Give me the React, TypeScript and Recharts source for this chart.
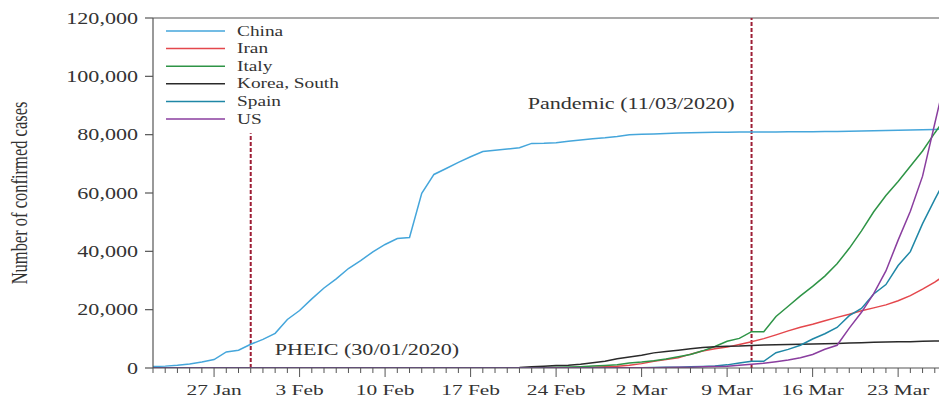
import React from "react";
import { LineChart, Line, XAxis, YAxis, ReferenceLine, Legend } from "recharts";

const dates = [
  "22 Jan","23 Jan","24 Jan","25 Jan","26 Jan","27 Jan","28 Jan","29 Jan","30 Jan","31 Jan",
  "1 Feb","2 Feb","3 Feb","4 Feb","5 Feb","6 Feb","7 Feb","8 Feb","9 Feb","10 Feb",
  "11 Feb","12 Feb","13 Feb","14 Feb","15 Feb","16 Feb","17 Feb","18 Feb","19 Feb","20 Feb",
  "21 Feb","22 Feb","23 Feb","24 Feb","25 Feb","26 Feb","27 Feb","28 Feb","29 Feb",
  "1 Mar","2 Mar","3 Mar","4 Mar","5 Mar","6 Mar","7 Mar","8 Mar","9 Mar","10 Mar",
  "11 Mar","12 Mar","13 Mar","14 Mar","15 Mar","16 Mar","17 Mar","18 Mar","19 Mar","20 Mar",
  "21 Mar","22 Mar","23 Mar","24 Mar","25 Mar","26 Mar","27 Mar",
];

const majorLabels = ["27 Jan","3 Feb","10 Feb","17 Feb","24 Feb","2 Mar","9 Mar","16 Mar","23 Mar"];
const yTicks = [0, 20000, 40000, 60000, 80000, 100000, 120000];

const china = [
  548,643,920,1406,2075,2877,5509,6087,8141,9802,
  11891,16630,19716,23707,27440,30587,34110,36814,39829,42354,
  44386,44759,59895,66358,68413,70513,72434,74211,74619,75077,
  75550,77001,77022,77241,77754,78166,78600,78928,79356,
  79932,80136,80261,80386,80537,80690,80770,80823,80860,80887,
  80921,80932,80945,80977,81003,81033,81058,81102,81156,81250,
  81305,81435,81498,81591,81661,81782,81897,
];
const iran = [
  0,0,0,0,0,0,0,0,0,0,
  0,0,0,0,0,0,0,0,0,0,
  0,0,0,0,0,0,0,0,2,5,
  18,28,43,61,95,139,245,388,593,
  978,1501,2336,2922,3513,4747,5823,6566,7161,8042,
  9000,10075,11364,12729,13938,14991,16169,17361,18407,19644,
  20610,21638,23049,24811,27017,29406,32332,
];
const italy = [
  0,0,0,0,0,0,0,0,0,2,
  2,2,2,2,2,2,3,3,3,3,
  3,3,3,3,3,3,3,3,3,3,
  20,62,155,229,322,453,655,888,1128,
  1694,2036,2502,3089,3858,4636,5883,7375,9172,10149,
  12462,12462,17660,21157,24747,27980,31506,35713,41035,47021,
  53578,59138,63927,69176,74386,80589,86498,
];
const korea = [
  1,1,2,2,3,4,4,4,4,11,
  12,15,15,16,19,23,24,24,25,27,
  28,28,28,28,28,29,30,31,31,104,
  204,433,602,833,977,1261,1766,2337,3150,
  3736,4335,5186,5621,6088,6593,7041,7314,7478,7513,
  7755,7869,7979,8086,8162,8236,8320,8413,8565,8652,
  8799,8897,8961,9037,9137,9241,9332,
];
const spain = [
  0,0,0,0,0,0,0,0,0,0,
  1,1,1,1,1,1,1,1,2,2,
  2,2,2,2,2,2,2,2,2,2,
  2,2,2,2,6,13,15,32,45,
  84,120,165,222,259,400,500,673,1073,1695,
  2277,2277,5232,6391,7798,9942,11748,13910,17963,20410,
  25374,28603,35136,39885,49515,57786,65719,
];
const us = [
  1,1,2,2,5,5,5,5,5,6,
  8,8,11,11,12,12,12,12,12,12,
  13,13,15,15,15,15,15,15,15,15,
  35,35,35,53,53,59,60,62,70,
  76,101,122,153,221,278,417,537,605,959,
  1281,1663,2179,2726,3499,4632,6421,7786,13680,19101,
  25493,33276,43847,53740,65778,83836,101657,
];

const seriesNames = ["China", "Iran", "Italy", "Korea, South", "Spain", "US"];
const seriesColors = ["#45a6db", "#e4474c", "#2e9446", "#2a2a2a", "#1f87a6", "#8a3e9f"];
const seriesValues = [china, iran, italy, korea, spain, us];

const data = dates.map((d, i) => {
  const row: any = { date: d };
  seriesNames.forEach((n, k) => { row[n] = seriesValues[k][i]; });
  return row;
});

const FONT = "'Liberation Serif', 'Times New Roman', serif";
const SX = 1.38;

const ST = ({ x, y, anchor = "start", size = 15, rotate = 0, fill = "#333", children }: any) => (
  <text
    transform={`translate(${x},${y}) scale(${SX},1)${rotate ? ` rotate(${rotate})` : ""}`}
    textAnchor={anchor}
    fontSize={size}
    fontFamily={FONT}
    fill={fill}
  >
    {children}
  </text>
);

const XTick = (props: any) => {
  const { x, y, payload } = props;
  const major = majorLabels.includes(payload.value);
  return (
    <g>
      <line x1={x} x2={x} y1={y} y2={y + (major ? 9 : 5)} stroke="#555" strokeWidth={1} />
      {major && (
        <ST x={x} y={y + 27} anchor="middle" size={15.5}>
          {payload.value}
        </ST>
      )}
    </g>
  );
};

const YTick = (props: any) => {
  const { y, payload } = props;
  return (
    <ST x={138} y={y + 5.5} anchor="end" size={16}>
      {Number(payload.value).toLocaleString("en-US")}
    </ST>
  );
};

const renderLegend = (props: any) => {
  const payload = props.payload || [];
  return (
    <svg width={260} height={115} style={{ display: "block" }}>
      {payload.map((e: any, i: number) => {
        const cy = 11 + i * 17.6;
        return (
          <g key={i}>
            <line x1={6} x2={65} y1={cy} y2={cy} stroke={e.color} strokeWidth={1.5} />
            <ST x={77} y={cy + 4.5} size={14}>
              {e.value}
            </ST>
          </g>
        );
      })}
    </svg>
  );
};

const yLabel = () => (
  <ST x={27} y={193} anchor="middle" size={16.5} rotate={-90}>
    Number of confirmed cases
  </ST>
);

export default function App() {
  return (
    <div
      style={{
        position: "absolute",
        left: 0,
        top: 0,
        width: 939,
        height: 399,
        overflow: "hidden",
        background: "#fff",
      }}
    >
      <LineChart
        width={957}
        height={399}
        data={data}
        margin={{ top: 18, right: 10, left: 0, bottom: 0 }}
      >
        <XAxis
          dataKey="date"
          scale="point"
          padding={{ left: 0, right: 0 }}
          interval={0}
          tickSize={0}
          tickMargin={0}
          tickLine={false}
          height={31}
          stroke="#555"
          strokeWidth={1.2}
          tick={<XTick />}
        />
        <YAxis
          domain={[0, 120000]}
          ticks={yTicks}
          width={153}
          tickSize={8}
          stroke="#555"
          strokeWidth={1.2}
          tickLine={{ stroke: "#555" }}
          tick={<YTick />}
          label={{ content: yLabel }}
          allowDataOverflow
        />
        <ReferenceLine y={120000} stroke="#555" strokeWidth={1.2} />
        <ReferenceLine
          segment={[{ x: "30 Jan", y: 0 }, { x: "30 Jan", y: 80500 }]}
          stroke="#9d1e35"
          strokeWidth={2}
          strokeDasharray="4 2"
          label={{
            content: (p: any) => (
              <ST x={(p.viewBox?.x ?? 0) + 24} y={(p.viewBox?.y ?? 0) + (p.viewBox?.height ?? 0) - 13} size={16}>
                PHEIC (30/01/2020)
              </ST>
            ),
          }}
        />
        <ReferenceLine
          x="11 Mar"
          stroke="#9d1e35"
          strokeWidth={2}
          strokeDasharray="4 2"
          label={{
            content: (p: any) => (
              <ST x={(p.viewBox?.x ?? 0) - 17} y={(p.viewBox?.y ?? 0) + 91} anchor="end" size={16}>
                Pandemic (11/03/2020)
              </ST>
            ),
          }}
        />
        <Legend
          layout="vertical"
          align="center"
          verticalAlign="middle"
          wrapperStyle={{ left: 160, top: 20, width: 260 }}
          content={renderLegend}
        />
        {seriesNames.map((n, k) => (
          <Line
            key={n}
            type="linear"
            dataKey={n}
            name={n}
            stroke={seriesColors[k]}
            strokeWidth={1.5}
            dot={false}
            activeDot={false}
            isAnimationActive={false}
          />
        ))}
      </LineChart>
    </div>
  );
}
